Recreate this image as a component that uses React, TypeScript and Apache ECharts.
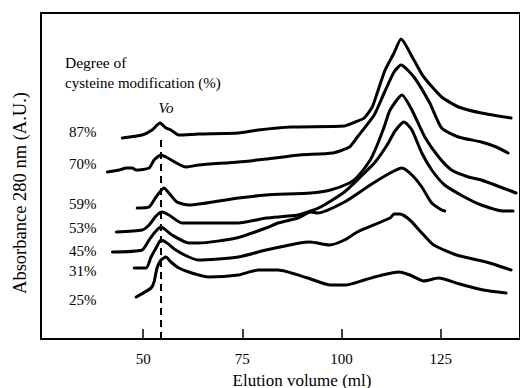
import React, { useEffect, useRef } from "react";
import * as echarts from "echarts";

// x: elution volume (ml), y: absorbance 280 nm (arbitrary units, stacked traces)
const xTicks = [50, 75, 100, 125];
const voidVolume = 54.5;
const voidLineTop = 1.99;

const degreeLabels = ["87%", "70%", "59%", "53%", "45%", "31%", "25%"];

const trace87 = [
  [44.75, 2.01], [49.75, 2.04], [52.25, 2.09], [54.25, 2.16], [55.75, 2.11], [57.0, 2.09],
  [59.0, 2.04], [64.0, 2.05], [74.0, 2.06], [79.0, 2.09], [87.25, 2.12], [100.75, 2.13],
  [103.5, 2.17], [105.75, 2.21], [107.75, 2.32], [109.0, 2.46], [111.0, 2.69], [113.25, 2.86],
  [115.0, 3.0], [118.25, 2.79], [120.75, 2.62], [125.25, 2.42], [129.5, 2.32], [135.25, 2.26],
  [142.75, 2.21],
];
const trace70 = [
  [41.0, 1.67], [44.0, 1.69], [45.75, 1.71], [47.25, 1.71], [48.25, 1.69], [51.5, 1.71],
  [52.75, 1.79], [54.5, 1.84], [55.75, 1.82], [60.75, 1.72], [64.0, 1.74], [74.0, 1.77],
  [81.0, 1.8], [89.5, 1.84], [97.75, 1.86], [102.0, 1.92], [104.0, 2.02], [108.25, 2.24],
  [110.75, 2.46], [113.25, 2.67], [115.0, 2.74], [118.25, 2.62], [122.25, 2.36], [125.25, 2.11],
  [129.5, 2.02], [135.25, 1.97], [139.0, 1.92], [142.0, 1.86],
];
const trace59 = [
  [48.5, 1.31], [51.5, 1.32], [53.25, 1.42], [55.25, 1.51], [56.5, 1.46], [58.5, 1.37],
  [61.5, 1.34], [74.0, 1.41], [81.0, 1.44], [92.25, 1.46], [97.25, 1.49], [102.0, 1.56],
  [104.0, 1.62], [107.25, 1.79], [109.0, 1.94], [110.75, 2.12], [112.25, 2.29], [115.25, 2.44],
  [117.75, 2.29], [121.0, 2.02], [124.5, 1.82], [127.75, 1.69], [132.0, 1.62], [135.25, 1.59],
  [144.0, 1.46],
];
const trace53 = [
  [43.25, 1.07], [49.75, 1.09], [51.5, 1.14], [53.25, 1.23], [54.75, 1.27], [56.5, 1.24],
  [59.75, 1.16], [74.0, 1.16], [81.0, 1.21], [89.0, 1.24], [94.75, 1.32], [100.75, 1.47],
  [104.75, 1.62], [108.5, 1.77], [111.5, 1.94], [113.5, 2.08], [115.75, 2.17], [117.75, 2.09],
  [120.25, 1.86], [122.75, 1.69], [126.0, 1.54], [131.0, 1.42], [135.25, 1.34], [140.75, 1.28],
  [143.25, 1.28],
];
const trace45 = [
  [42.25, 0.87], [49.75, 0.89], [51.5, 0.99], [53.0, 1.07], [54.5, 1.12], [57.25, 1.04],
  [61.5, 0.96], [64.0, 0.96], [73.5, 1.01], [81.0, 1.11], [84.0, 1.16], [89.0, 1.21],
  [92.25, 1.27], [94.0, 1.26], [100.75, 1.37], [107.25, 1.54], [112.25, 1.66], [115.25, 1.71],
  [117.75, 1.64], [120.25, 1.52], [122.75, 1.36], [125.25, 1.29], [126.0, 1.28],
];
const trace31 = [
  [47.75, 0.71], [50.75, 0.71], [52.0, 0.82], [53.25, 0.91], [54.5, 0.99], [56.0, 0.96],
  [58.25, 0.89], [61.5, 0.82], [64.0, 0.79], [74.0, 0.82], [81.0, 0.89], [89.5, 0.96],
  [92.0, 0.97], [97.0, 0.94], [100.75, 0.99], [104.0, 1.07], [112.25, 1.21], [113.25, 1.25],
  [114.75, 1.25], [117.25, 1.19], [120.25, 1.06], [123.25, 0.94], [129.0, 0.84], [136.5, 0.77],
  [142.75, 0.69],
];
const trace25 = [
  [48.25, 0.42], [52.0, 0.51], [52.75, 0.57], [53.5, 0.71], [54.5, 0.79], [55.75, 0.82],
  [57.0, 0.77], [59.0, 0.71], [62.25, 0.66], [66.5, 0.62], [74.0, 0.64], [79.0, 0.69],
  [84.0, 0.69], [91.5, 0.61], [97.25, 0.54], [101.0, 0.54], [105.75, 0.59], [110.25, 0.64],
  [114.5, 0.67], [117.25, 0.64], [120.75, 0.58], [124.5, 0.61], [129.75, 0.55], [135.75, 0.49],
  [141.5, 0.46],
];

const traces = [trace87, trace70, trace59, trace53, trace45, trace31, trace25];

const SERIF = "Liberation Serif";
const labelYs = [132, 164, 204, 228, 251, 271, 300];

function txt(text: string, x: number, y: number, size: number, align: string, extra: any = {}) {
  return {
    type: "text",
    x,
    y,
    ...extra,
    style: {
      text,
      fontFamily: SERIF,
      fontSize: size,
      fontStyle: extra.italic ? "italic" : "normal",
      fill: "#000",
      align,
      verticalAlign: "middle",
    },
  };
}

export default function App() {
  const ref = useRef<HTMLDivElement>(null);
  useEffect(() => {
    document.body.style.margin = "0";
    if (!ref.current) return;
    const chart = echarts.init(ref.current, undefined, { renderer: "svg" });
    const series: any[] = traces.map((d, i) => ({
      type: "line",
      name: degreeLabels[i],
      data: d,
      showSymbol: false,
      symbol: "none",
      smooth: 0.2,
      lineStyle: { color: "#000", width: 3, join: "round", cap: "round" },
      silent: true,
      z: 3,
    }));
    series[0].markLine = {
      silent: true,
      symbol: "none",
      label: { show: false },
      lineStyle: { color: "#000", width: 2, type: [7, 5] },
      data: [[{ coord: [voidVolume, 0] }, { coord: [voidVolume, voidLineTop] }]],
    };
    const texts: any[] = degreeLabels.map((t, i) => txt(t, 69, labelYs[i], 15, "left"));
    texts.push(
      txt("Degree of", 65, 62, 15.5, "left"),
      txt("cysteine modification (%)", 65, 83, 15, "left"),
      { ...txt("Vo", 166, 108, 15, "center"), style: { text: "Vo", fontFamily: SERIF, fontSize: 15, fontStyle: "italic", fill: "#000", align: "center", verticalAlign: "middle" } },
      txt("Elution volume (ml)", 302, 380, 17, "center"),
      { ...txt("Absorbance 280 nm (A.U.)", 20, 193, 18.5, "center"), rotation: Math.PI / 2 }
    );
    chart.setOption({
      animation: false,
      backgroundColor: "#fff",
      grid: { left: 41, right: -4, top: 13, bottom: 49, show: true, borderColor: "#000", borderWidth: 2 },
      xAxis: {
        type: "value",
        min: 24.25,
        max: 145,
        axisLine: { show: true, lineStyle: { color: "#000", width: 2 } },
        axisTick: { show: true, inside: true, length: 10, customValues: xTicks, lineStyle: { color: "#000", width: 1.5 } },
        axisLabel: { show: true, customValues: xTicks, margin: 12, color: "#000", fontSize: 15, fontFamily: SERIF },
        splitLine: { show: false },
      },
      yAxis: {
        type: "value",
        min: 0,
        max: 3.26,
        axisLine: { show: true, lineStyle: { color: "#000", width: 2 } },
        axisTick: { show: false },
        axisLabel: { show: false },
        splitLine: { show: false },
      },
      series,
      graphic: texts,
    });
    return () => chart.dispose();
  }, []);
  return <div ref={ref} style={{ width: 520, height: 388 }} />;
}
